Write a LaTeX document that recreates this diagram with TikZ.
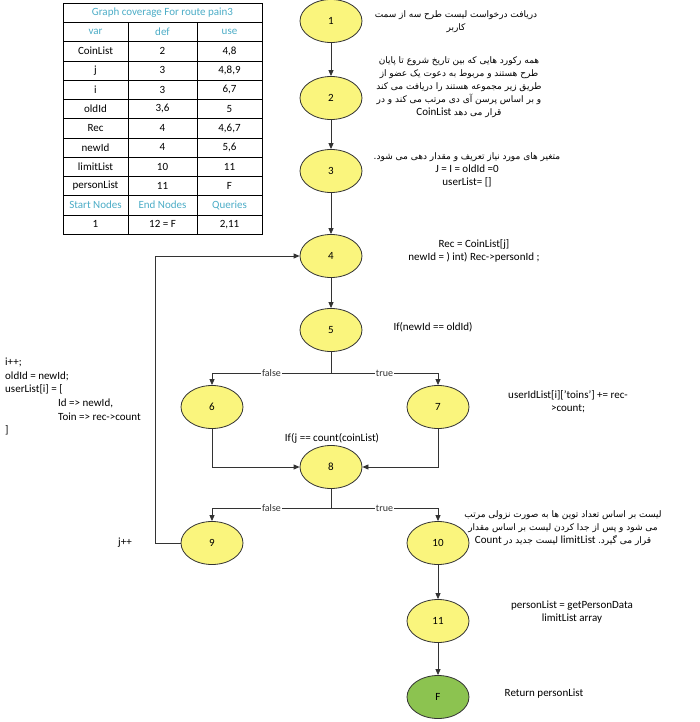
\documentclass[tikz,border=0pt]{standalone}
\usepackage{fontspec}
\setmainfont{Carlito}
\newfontfamily\fa[Script=Arabic]{DejaVu Sans}
\TeXXeTstate=1
\usetikzlibrary{shapes.geometric,arrows.meta}
\definecolor{nodeyellow}{RGB}{250,245,125}
\definecolor{nodegreen}{RGB}{140,195,80}
\definecolor{headblue}{RGB}{75,172,198}
\newcommand\fatext[1]{\hbox{\fa\fontsize{9}{13}\selectfont\beginR #1\endR}}
\begin{document}
\begin{tikzpicture}[x = 1pt, y = -1pt, font = \fontsize{11}{13}\selectfont,
  vertex/.style = {ellipse, draw = black!80, fill = nodeyellow, line width = 0.8pt, minimum width = 62pt, minimum height = 43pt, inner sep = 0pt},
  flow/.style = {draw = black!80, line width = 0.8pt, -{Triangle[length = 6pt, width = 5pt]}},
  cond/.style = {fill = white, inner sep = 1pt, text = black!80, font = \fontsize{10}{12}\selectfont},
  note/.style = {align = center, inner sep = 0pt},
  cell/.style = {inner sep = 0pt}]
\useasboundingbox (0,0) rectangle (700,722);
\pgfmathsetmacro\rowh{19.25}
\draw (63,3) rectangle (262,234);
\foreach \r in {1,...,11} \draw (63,3+\rowh*\r) -- (262,3+\rowh*\r);
\foreach \c in {128,197} \draw (\c,3+\rowh) -- (\c,234);
\node[cell, text = headblue] (title) at (162.5,3+\rowh/2) {Graph coverage For route pain3};
\node[cell, text = headblue] (hvar) at (95.5,3+\rowh*1.5) {var};
\node[cell, text = headblue] (hdef) at (162.5,3+\rowh*1.5) {def};
\node[cell, text = headblue] (huse) at (229.5,3+\rowh*1.5) {use};
\foreach \v/\d/\u [count = \r from 2] in {CoinList/2/{4,8}, j/3/{4,8,9}, i/3/{6,7}, oldId/{3,6}/5, Rec/4/{4,6,7}, newId/4/{5,6}, limitList/10/11, personList/11/F}
  {
  \node[cell] (var\r) at (95.5,3+\rowh*\r+\rowh/2) {\v};
  \node[cell] (def\r) at (162.5,3+\rowh*\r+\rowh/2) {\d};
  \node[cell] (use\r) at (229.5,3+\rowh*\r+\rowh/2) {\u};
  }
\node[cell, text = headblue] (hstart) at (95.5,3+\rowh*10.5) {Start Nodes};
\node[cell, text = headblue] (hend) at (162.5,3+\rowh*10.5) {End Nodes};
\node[cell, text = headblue] (hquery) at (229.5,3+\rowh*10.5) {Queries};
\node[cell] (start) at (95.5,3+\rowh*11.5) {1};
\node[cell] (end) at (162.5,3+\rowh*11.5) {12 = F};
\node[cell] (query) at (229.5,3+\rowh*11.5) {2,11};
\node[vertex] (n1) at (331,21) {1};
\node[vertex] (n2) at (331,98) {2};
\node[vertex] (n3) at (331,171) {3};
\node[vertex] (n4) at (331,256) {4};
\node[vertex] (n5) at (331,330) {5};
\node[vertex] (n6) at (212,407) {6};
\node[vertex] (n7) at (438,407) {7};
\node[vertex] (n8) at (331,467) {8};
\node[vertex] (n9) at (212,543) {9};
\node[vertex] (n10) at (438,543) {10};
\node[vertex] (n11) at (438,621) {11};
\node[vertex, fill = nodegreen] (nF) at (438,697) {F};
\coordinate (split5) at (331,373);
\coordinate (split8) at (331,508);
\coordinate (back) at (155,543);
\draw[flow] (n1) -- (n2);
\draw[flow] (n2) -- (n3);
\draw[flow] (n3) -- (n4);
\draw[flow] (n4) -- (n5);
\draw[flow] (n5) -- (split5) -| node[cond, pos = 0.25] {false} (n6);
\draw[flow] (split5) -| node[cond, pos = 0.25] {true} (n7);
\draw[flow] (n6) |- (n8);
\draw[flow] (n7) |- (n8);
\draw[flow] (n8) -- (split8) -| node[cond, pos = 0.25] {false} (n9);
\draw[flow] (split8) -| node[cond, pos = 0.25] {true} (n10);
\draw[flow] (n9) -- (back) |- (n4);
\draw[flow] (n10) -- (n11);
\draw[flow] (n11) -- (nF);
\node[note] (text1) at (456,22) {\fatext{دریافت درخواست لیست طرح سه از سمت}\\ \fatext{کاربر}};
\node[note] (text2) at (459,87) {\fatext{همه رکورد هایی که بین تاریخ شروع تا پایان}\\ \fatext{طرح هستند و مربوط به دعوت یک عضو از}\\ \fatext{طریق زیر مجموعه هستند را دریافت می کند}\\ \fatext{و بر اساس پرسن آی دی مرتب می کند و در}\\ CoinList \fatext{قرار می دهد}};
\node[note] (text3) at (467,170) {\fatext{متغیر های مورد نیاز تعریف و مقدار دهی می شود.}\\ J = I = oldId =0\\ userList= []};
\node[note] (text4) at (474,251) {Rec = CoinList[j]\\ newId = ) int) Rec->personId ;};
\node[note] (text5) at (433,327) {If(newId == oldId)};
\node[note, anchor = north west, align = left, font = \fontsize{11}{13.6}\selectfont] (text6) at (5,358) {i++;\\ oldId = newId;\\ userList[i] = [\\ \hspace*{53pt}Id => newId,\\ \hspace*{53pt}Toin => rec->count\\ ]};
\node[note] (text7) at (568,402) {userIdList[i]['toins'] += rec-\\ >count;};
\node[note] (text8) at (332,438) {If(j == count(coinList)};
\node[note] (text9) at (125,543) {j++};
\node[note] (text10) at (563,528) {\fatext{لیست بر اساس تعداد توین ها به صورت نزولی مرتب}\\ \fatext{می شود و پس از جدا کردن لیست بر اساس مقدار}\\ Count \fatext{لیست جدید در} limitList \fatext{قرار می گیرد.}};
\node[note] (text11) at (572,612) {personList = getPersonData\\ limitList array};
\node[note] (textF) at (544,694) {Return personList};
\end{tikzpicture}
\end{document}
